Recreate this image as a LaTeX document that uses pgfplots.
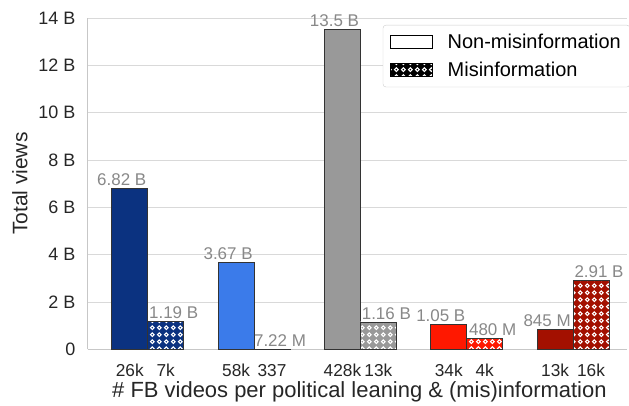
\documentclass[border=0pt]{standalone}
\usepackage{pgfplots}
\pgfplotsset{compat=1.18}
\usepackage{fontspec}
\setmainfont{Liberation Sans}
\usetikzlibrary{patterns}
\pgfdeclarepatternformonly{rings}{\pgfpointorigin}{\pgfqpoint{6.8bp}{6.8bp}}{\pgfqpoint{6.8bp}{6.8bp}}{%
  \pgfsetlinewidth{1.1bp}\pgfpathcircle{\pgfqpoint{3.4bp}{3.4bp}}{1.9bp}\pgfusepath{stroke}}
\definecolor{c1}{HTML}{0B3280}
\definecolor{c2}{HTML}{3B7BEA}
\definecolor{c3}{HTML}{999999}
\definecolor{c4}{HTML}{FF1800}
\definecolor{c5}{HTML}{A31000}
\definecolor{lab}{HTML}{888888}
\pgfplotsset{
  nonbar/.style={ybar, bar width=0.338, bar shift=-0.169, draw=black!80, line width=0.8bp,
    fill=#1, forget plot, nodes near coords, point meta=explicit symbolic,
    nodes near coords style={xshift=-26bp, text=lab, font=\fontsize{17bp}{20bp}\selectfont, anchor=south, yshift=-1bp}},
  misbar/.style={ybar, bar width=0.338, bar shift=0.169, draw=black!80, line width=0.8bp,
    fill=#1, postaction={pattern=rings, pattern color=white}, forget plot, nodes near coords, point meta=explicit symbolic,
    nodes near coords style={xshift=26bp, text=lab, font=\fontsize{17bp}{20bp}\selectfont, anchor=south, yshift=-1bp}},
}
\begin{document}
\begin{tikzpicture}
\begin{axis}[name=ax, scale only axis, width=540bp, height=332bp,
  xmin=-0.563, xmax=4.507, ymin=0, ymax=14,
  axis lines*=left, axis line style={-, draw=black!22, line width=0.9bp},
  ytick={0,2,...,14}, yticklabels={0,2 B,4 B,6 B,8 B,10 B,12 B,14 B},
  xtick={-0.169,0.169,0.831,1.169,1.831,2.169,2.831,3.169,3.831,4.169},
  xticklabels={26k,7k,58k,337,428k,13k,34k,4k,13k,16k},
  tick style={draw=none}, major tick length=0pt,
  ymajorgrids, grid style={draw=black!15, line width=0.8bp},
  tick label style={font=\fontsize{18bp}{21bp}\selectfont, text=black!85},
  xticklabel style={anchor=base, yshift=-27bp, inner ysep=0pt, font=\fontsize{17.3bp}{20bp}\selectfont},
  yticklabel style={anchor=east, xshift=-9bp},
  ylabel={Total views}, xlabel={\# FB videos per political leaning \& (mis)information},
  label style={font=\fontsize{21bp}{24bp}\selectfont, text=black!85},
  xlabel style={at={(axis description cs:0.5,0)}, anchor=base, yshift=-48bp, xshift=2bp, inner ysep=0pt, font=\fontsize{22bp}{25bp}\selectfont},
  ylabel style={at={(axis description cs:0,0.5)}, anchor=center, yshift=68bp},
  clip=false,
  legend image code/.code={\draw[#1, sharp corners] (0bp,-6.5bp) rectangle (42bp,6.5bp);},
  legend style={at={(1,1)}, anchor=north east, xshift=3bp, yshift=-7bp,
    draw=black!20, rounded corners=3bp, font=\fontsize{20bp}{23bp}\selectfont,
    row sep=8bp, inner xsep=7bp, inner ysep=7bp,
    /tikz/every odd column/.style={column sep=13bp}},
  legend cell align=left,
]
\addplot[nonbar=c1] coordinates {(0,6.82) [6.82 B]};
\addplot[misbar=c1] coordinates {(0,1.19) [1.19 B]};
\addplot[nonbar=c2] coordinates {(1,3.67) [3.67 B]};
\addplot[misbar=c2] coordinates {(1,0.00722) [7.22 M]};
\addplot[nonbar=c3] coordinates {(2,13.5) [13.5 B]};
\addplot[misbar=c3] coordinates {(2,1.16) [1.16 B]};
\addplot[nonbar=c4] coordinates {(3,1.05) [1.05 B]};
\addplot[misbar=c4] coordinates {(3,0.48) [480 M]};
\addplot[nonbar=c5] coordinates {(4,0.845) [845 M]};
\addplot[misbar=c5] coordinates {(4,2.91) [2.91 B]};
\addlegendimage{draw=black, fill=white, line width=0.8bp}
\addlegendentry{Non-misinformation}
\addlegendimage{draw=black, fill=black, line width=0.8bp, postaction={pattern=rings, pattern color=white}}
\addlegendentry{Misinformation}
\end{axis}
\pgfresetboundingbox
\path ([shift={(-88bp,-56bp)}]ax.south west) rectangle ([shift={(2bp,18bp)}]ax.north east);
\end{tikzpicture}
\end{document}
